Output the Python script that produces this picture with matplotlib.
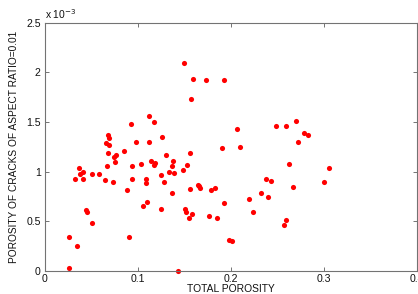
import matplotlib
matplotlib.use("Agg")
import matplotlib.pyplot as plt

# Data: total porosity (x) and porosity of cracks with aspect ratio 0.01 (y, in units of 1e-3)
total_porosity = [
    0.0262, 0.0262, 0.0341, 0.0320, 0.0366, 0.0374, 0.0404, 0.0412, 0.0445, 0.0452,
    0.0509, 0.0503, 0.0581, 0.0675, 0.0692, 0.0657, 0.0684, 0.0681, 0.0670, 0.0651,
    0.0729, 0.0743, 0.0767, 0.0757, 0.0850, 0.0888, 0.0901, 0.0929, 0.0940, 0.0936,
    0.0983, 0.1033, 0.1090, 0.1090, 0.1098, 0.1052, 0.1119, 0.1116, 0.1173, 0.1146,
    0.1189, 0.1170, 0.1249, 0.1249, 0.1286, 0.1299, 0.1256, 0.1340, 0.1362, 0.1378,
    0.1362, 0.1392, 0.1437, 0.1489, 0.1531, 0.1499, 0.1590, 0.1572, 0.1507, 0.1516,
    0.1550, 0.1580, 0.1564, 0.1558, 0.1642, 0.1660, 0.1668, 0.1736, 0.1769, 0.1787,
    0.1830, 0.1848, 0.1907, 0.1927, 0.1929, 0.1986, 0.2008, 0.2067, 0.2099, 0.2196,
    0.2244, 0.2330, 0.2379, 0.2430, 0.2397, 0.2489, 0.2591, 0.2573, 0.2591, 0.2630,
    0.2670, 0.2702, 0.2723, 0.2788, 0.2834, 0.3003, 0.3055,
]
crack_porosity_e3 = [
    0.030, 0.339, 0.252, 0.929, 1.039, 0.973, 0.996, 0.923, 0.614, 0.594,
    0.480, 0.973, 0.973, 1.368, 1.341, 1.291, 1.273, 1.190, 1.059, 0.912,
    0.895, 1.147, 1.164, 1.100, 1.207, 0.820, 0.342, 1.476, 1.056, 0.931,
    1.303, 1.073, 0.931, 0.885, 0.692, 0.654, 1.303, 1.559, 1.499, 1.107,
    1.087, 1.063, 0.969, 0.621, 0.897, 1.164, 1.345, 0.996, 1.061, 1.107,
    0.783, 0.984, 0.000, 1.013, 1.064, 2.093, 1.929, 1.735, 0.624, 0.592,
    0.536, 0.570, 1.187, 0.823, 0.870, 0.852, 0.833, 1.922, 0.553, 0.815,
    0.835, 0.536, 1.240, 1.925, 0.687, 0.317, 0.304, 1.429, 1.247, 0.724,
    0.594, 0.788, 0.923, 0.902, 0.741, 1.456, 1.456, 0.463, 0.510, 1.073,
    0.848, 1.506, 1.295, 1.385, 1.371, 0.893, 1.033,
]

x_ticks = [0, 0.1, 0.2, 0.3, 0.4]
x_tick_labels = ["0", "0.1", "0.2", "0.3", "0.4"]
y_ticks = [0, 0.5, 1, 1.5, 2, 2.5]
y_tick_labels = ["0", "0.5", "1", "1.5", "2", "2.5"]

plt.rcParams['font.family'] = ['Liberation Sans', 'DejaVu Sans']

fig = plt.figure(figsize=(4.18, 2.94), dpi=100)
ax = fig.add_axes([45/418, 1 - 271/294, (416.6 - 45)/418, (271 - 22.7)/294])

ax.plot(total_porosity, crack_porosity_e3, 'o', color='#ff0000', ms=3.7,
        markeredgewidth=0, clip_on=False)

ax.set_xlim(0, 0.4)
ax.set_ylim(0, 2.5)
ax.set_xticks(x_ticks)
ax.set_xticklabels(x_tick_labels)
ax.set_yticks(y_ticks)
ax.set_yticklabels(y_tick_labels)

for s in ax.spines.values():
    s.set_color('0.45')
    s.set_linewidth(0.8)
ax.tick_params(direction='in', length=3, width=0.7, color='0.45',
               top=True, right=True, labelsize=7.6, labelcolor='#111111', pad=3)
ax.tick_params(axis='x', pad=2)

ax.set_xlabel("TOTAL POROSITY", fontsize=7.4, labelpad=0, color='#111111')
ax.set_ylabel("POROSITY OF CRACKS OF ASPECT RATIO=0.01", fontsize=7.3,
              labelpad=5, color='#111111')

ax.text(0.0, 1.005, r"x 10$^{-3}$", transform=ax.transAxes, fontsize=7.4,
        ha='left', va='bottom', color='#111111')

fig.savefig("out.png", dpi=100)
